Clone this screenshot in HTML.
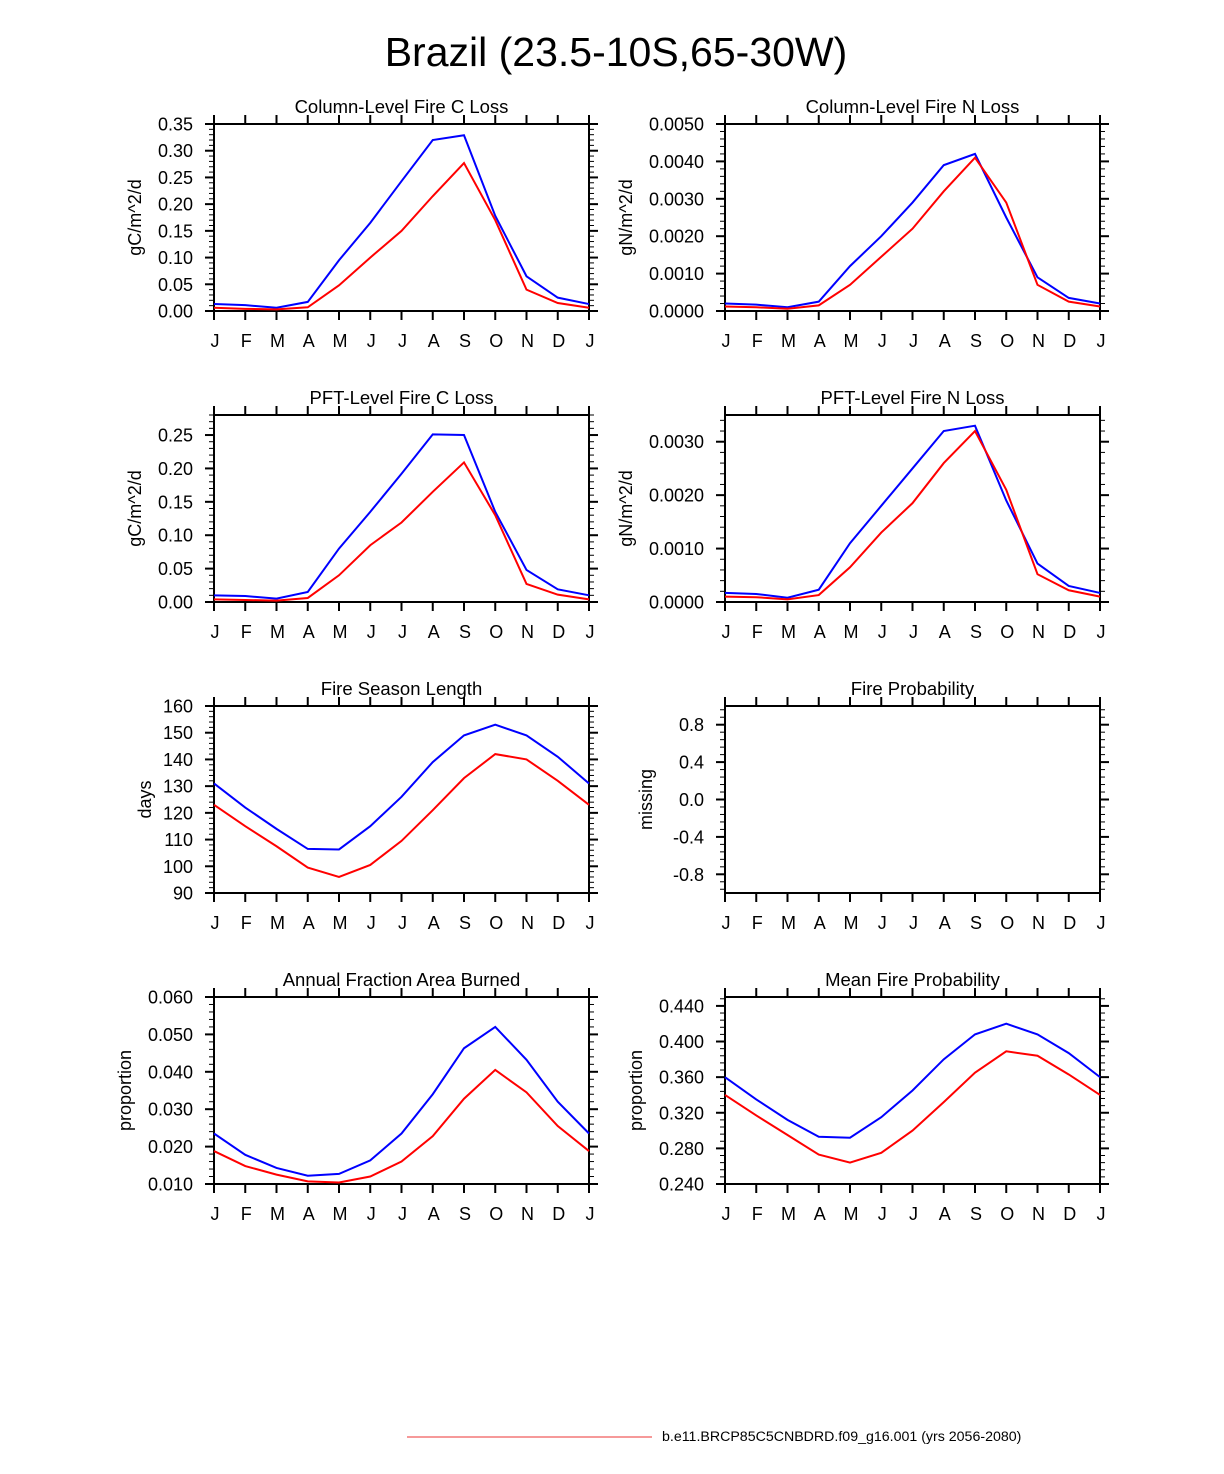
<!DOCTYPE html>
<html><head><meta charset="utf-8"><style>
body{margin:0;background:#fff;}
svg{display:block;font-family:"Liberation Sans",Arial,sans-serif;}
</style></head><body>
<svg id="fig" width="1224" height="1474" viewBox="0 0 1224 1474">
<text x="616" y="66" font-size="41" text-anchor="middle">Brazil (23.5-10S,65-30W)</text>
<line x1="407" y1="1437" x2="652" y2="1437" stroke="#e33" stroke-width="1"/>
<text x="662" y="1441" font-size="14.2">b.e11.BRCP85C5CNBDRD.f09_g16.001 (yrs 2056-2080)</text>
</svg>
<script>
const months=["J","F","M","A","M","J","J","A","S","O","N","D","J"];
const colCBlue=[.013,.011,.006,.017,.095,.165,.243,.32,.329,.178,.065,.025,.013];
const colCRed=[.006,.004,.003,.007,.048,.1,.15,.215,.277,.17,.04,.015,.006];
const colNBlue=[.0002,.00017,.0001,.00025,.0012,.002,.0029,.0039,.0042,.0025,.0009,.00035,.0002];
const colNRed=[.00012,.0001,.00006,.00015,.0007,.00145,.0022,.0032,.0041,.0029,.0007,.00025,.00012];
const pftCBlue=[.01,.009,.005,.015,.08,.135,.192,.251,.25,.135,.048,.019,.01];
const pftCRed=[.004,.003,.002,.006,.04,.085,.119,.165,.209,.13,.027,.011,.004];
const pftNBlue=[.00017,.00015,.00008,.00023,.0011,.0018,.0025,.0032,.0033,.0019,.00072,.0003,.00017];
const pftNRed=[.0001,.00009,.00005,.00013,.00065,.0013,.00185,.0026,.0032,.0021,.00052,.00022,.0001];
const seasonBlue=[131,122,114,106.5,106.3,115,126,139,149,153,149,141,131];
const seasonRed=[123,115,107.5,99.5,96,100.5,109.5,121,133,142,140,132,123];
const fracBlue=[.0235,.0178,.0143,.0122,.0127,.0163,.0235,.034,.0463,.052,.0432,.032,.0235];
const fracRed=[.0188,.0148,.0125,.0107,.0104,.012,.016,.0228,.0328,.0405,.0345,.0255,.0188];
const meanBlue=[.36,.335,.312,.293,.292,.315,.345,.38,.408,.42,.408,.387,.36];
const meanRed=[.34,.317,.295,.273,.264,.275,.3,.332,.365,.389,.384,.363,.34];

const NS="http://www.w3.org/2000/svg";
const svg=document.getElementById('fig');
function mk(tag,attrs,parent){const e=document.createElementNS(NS,tag);for(const k in attrs)e.setAttribute(k,attrs[k]);(parent||svg).appendChild(e);return e;}

const panels=[
 {name:"column-fire-c-loss",title:"Column-Level Fire C Loss",ylab:"gC/m^2/d",col:0,row:0,min:0,max:0.35,step:0.05,dec:2,blue:colCBlue,red:colCRed},
 {name:"column-fire-n-loss",title:"Column-Level Fire N Loss",ylab:"gN/m^2/d",col:1,row:0,min:0,max:0.005,step:0.001,dec:4,blue:colNBlue,red:colNRed},
 {name:"pft-fire-c-loss",title:"PFT-Level Fire C Loss",ylab:"gC/m^2/d",col:0,row:1,min:0,max:0.28,step:0.05,dec:2,blue:pftCBlue,red:pftCRed},
 {name:"pft-fire-n-loss",title:"PFT-Level Fire N Loss",ylab:"gN/m^2/d",col:1,row:1,min:0,max:0.0035,step:0.001,dec:4,blue:pftNBlue,red:pftNRed},
 {name:"fire-season-length",title:"Fire Season Length",ylab:"days",col:0,row:2,min:90,max:160,step:10,dec:0,blue:seasonBlue,red:seasonRed},
 {name:"fire-probability",title:"Fire Probability",ylab:"missing",col:1,row:2,min:-1,max:1,step:0.4,dec:1,first:-0.8,blue:null,red:null},
 {name:"annual-fraction-area-burned",title:"Annual Fraction Area Burned",ylab:"proportion",col:0,row:3,min:0.01,max:0.06,step:0.01,dec:3,blue:fracBlue,red:fracRed},
 {name:"mean-fire-probability",title:"Mean Fire Probability",ylab:"proportion",col:1,row:3,min:0.24,max:0.45,step:0.04,dec:3,blue:meanBlue,red:meanRed}
];
const ROWTOP=[124,415,706,997], H=187, COLX=[214,725], W=375;

panels.forEach(p=>{
 const g=mk('g',{});
 
 
 const x0=COLX[p.col], y0=ROWTOP[p.row], x1=x0+W, y1=y0+H;
 const xs=i=>x0+i*W/12;
 const ys=v=>y1-(v-p.min)/(p.max-p.min)*H;
 const t=mk('text',{x:x0+W/2,y:y0-11,'font-size':18.5,'text-anchor':'middle'},g);t.textContent=p.title;
 
 
 mk('rect',{x:x0,y:y0,width:W,height:H,fill:'none',stroke:'#000','stroke-width':2},g);
 months.forEach((m,i)=>{
  const x=xs(i);
  mk('line',{x1:x,y1:y1,x2:x,y2:y1+9,stroke:'#000','stroke-width':2},g);
  mk('line',{x1:x,y1:y0,x2:x,y2:y0-9,stroke:'#000','stroke-width':2},g);
  const l=mk('text',{x:x+1,y:y1+36,'font-size':18,'text-anchor':'middle'},g);l.textContent=m;
  
  
 });
 const first=p.first!==undefined?p.first:p.min;
 const minorStep=p.step/5;
 let ml=0;
 for(let v=first-p.step;v<=p.max+1e-9;v+=minorStep){
  if(v<p.min-1e-9)continue;
  const y=ys(v);
  mk('line',{x1:x0,y1:y,x2:x0-5,y2:y,stroke:'#000','stroke-width':1},g);
  mk('line',{x1:x1,y1:y,x2:x1+5,y2:y,stroke:'#000','stroke-width':1},g);
 }
 for(let v=first;v<=p.max+1e-9;v+=p.step){
  const y=ys(v);
  mk('line',{x1:x0,y1:y,x2:x0-9,y2:y,stroke:'#000','stroke-width':2},g);
  mk('line',{x1:x1,y1:y,x2:x1+9,y2:y,stroke:'#000','stroke-width':2},g);
  const l=mk('text',{x:x0-21,y:y+6.5,'font-size':18,'text-anchor':'end'},g);
  let s=v.toFixed(p.dec); if(s==="-0.0")s="0.0";
  l.textContent=s; ml=Math.max(ml,s.length);
  
  
 }
 const lx=x0-21-ml*10-12;
 const yl=mk('text',{x:lx,y:y0+H/2,'font-size':18,'text-anchor':'middle',transform:`rotate(-90 ${lx} ${y0+H/2})`},g);
 yl.textContent=p.ylab;
 
 
 [[p.blue,'#0000ff','blue-series'],[p.red,'#ff0000','red-series']].forEach(([d,c,n])=>{
  if(!d)return;
  const pl=mk('polyline',{points:d.map((v,i)=>xs(i)+','+ys(v)).join(' '),fill:'none',stroke:c,'stroke-width':2},g);
  
  
 });
});
</script>
</body></html>
